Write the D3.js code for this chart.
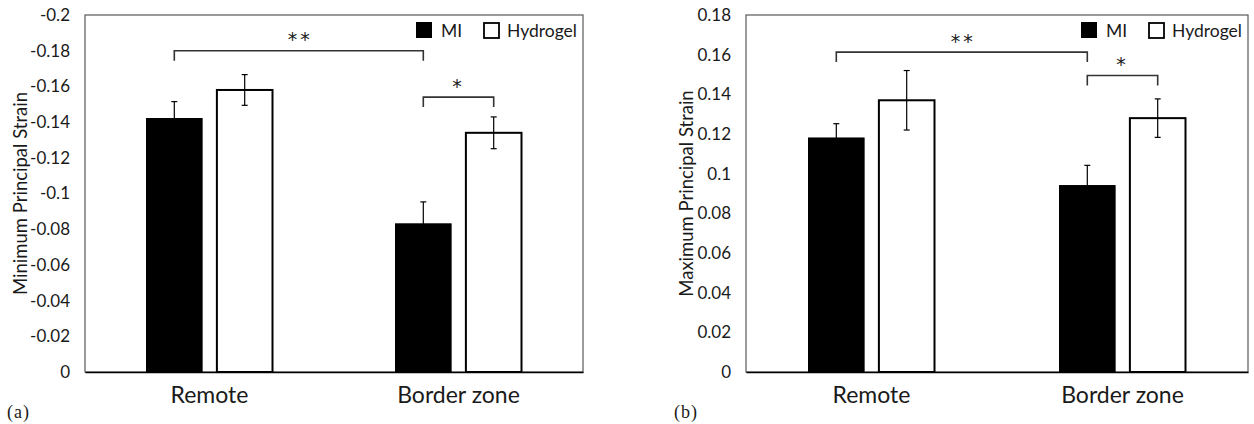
<!DOCTYPE html>
<html><head><meta charset="utf-8">
<script src="https://cdn.jsdelivr.net/npm/d3@7"></script>
<style>
body{margin:0;background:#fff}
svg{display:block}
text{font-family:Lato,"Open Sans",sans-serif;fill:#1a1a1a}
</style>
</head><body>
<svg id="c" width="1254" height="424"></svg>
<script>
// ---------- data ----------
const categories = ["Remote", "Border zone"];
const series = ["MI", "Hydrogel"];

// panel (a): minimum principal strain
const minMI = [-0.142, -0.083];
const minHydrogel = [-0.158, -0.134];
const minErrMI = [0.0095, 0.0123];
const minErrHydrogel = [0.0086, 0.0089];
const minTicks = [0, -0.02, -0.04, -0.06, -0.08, -0.1, -0.12, -0.14, -0.16, -0.18, -0.2];
const minTickLabels = ["0", "-0.02", "-0.04", "-0.06", "-0.08", "-0.1", "-0.12", "-0.14", "-0.16", "-0.18", "-0.2"];
const minSig = [
  {from: ["Remote", "MI"], to: ["Border zone", "MI"], level: -0.18, label: "**"},
  {from: ["Border zone", "MI"], to: ["Border zone", "Hydrogel"], level: -0.154, label: "*"}
];

// panel (b): maximum principal strain
const maxMI = [0.118, 0.094];
const maxHydrogel = [0.137, 0.128];
const maxErrMI = [0.0072, 0.0102];
const maxErrHydrogel = [0.015, 0.0097];
const maxTicks = [0, 0.02, 0.04, 0.06, 0.08, 0.1, 0.12, 0.14, 0.16, 0.18];
const maxTickLabels = ["0", "0.02", "0.04", "0.06", "0.08", "0.1", "0.12", "0.14", "0.16", "0.18"];
const maxSig = [
  {from: ["Remote", "MI"], to: ["Border zone", "MI"], level: 0.1613, label: "**"},
  {from: ["Border zone", "MI"], to: ["Border zone", "Hydrogel"], level: 0.1495, label: "*"}
];

const titles = ["Minimum Principal Strain", "Maximum Principal Strain"];
const panelLabels = ["(a)", "(b)"];

// ---------- layout ----------
const svg = d3.select("#c");
const panels = [
  {left: 85, right: 583, top: 15, bottom: 372, domain: [0, -0.2], mi: minMI, hy: minHydrogel,
   emi: minErrMI, ehy: minErrHydrogel, ticks: minTicks, labels: minTickLabels, sig: minSig,
   title: titles[0], titleX: 27, tag: panelLabels[0], tagX: 7},
  {left: 746, right: 1248, top: 15, bottom: 372, domain: [0, 0.18], mi: maxMI, hy: maxHydrogel,
   emi: maxErrMI, ehy: maxErrHydrogel, ticks: maxTicks, labels: maxTickLabels, sig: maxSig,
   title: titles[1], titleX: 693, tag: panelLabels[1], tagX: 674}
];

panels.forEach(p => {
  const g = svg.append("g");
  const y = d3.scaleLinear().domain(p.domain).range([p.bottom, p.top]);
  const x0 = d3.scaleBand().domain(categories).range([p.left, p.right]).padding(0);
  const groupW = 126;
  const x1 = d3.scaleBand().domain(series).range([0, groupW]).paddingInner(0.21).paddingOuter(0);
  const bx = (cat, s) => x0(cat) + x0.bandwidth() / 2 - groupW / 2 + x1(s);
  const cx = (cat, s) => bx(cat, s) + x1.bandwidth() / 2;

  // plot frame
  g.append("rect").attr("x", p.left).attr("y", p.top)
    .attr("width", p.right - p.left).attr("height", p.bottom - p.top)
    .attr("fill", "none").attr("stroke", "#595959").attr("stroke-width", 1.2);

  // y axis
  const ya = d3.axisLeft(y).tickValues(p.ticks).tickFormat((d, i) => p.labels[i])
    .tickSize(0).tickPadding(15);
  const yg = g.append("g").attr("transform", `translate(${p.left},0)`).call(ya);
  yg.select(".domain").remove();
  yg.selectAll("text").style("font-family", "Lato, sans-serif").style("font-size", "17px").attr("fill", "#1a1a1a");

  // bars
  const rows = [];
  categories.forEach((c, i) => {
    rows.push({cat: c, s: "MI", v: p.mi[i], e: p.emi[i]});
    rows.push({cat: c, s: "Hydrogel", v: p.hy[i], e: p.ehy[i]});
  });
  g.selectAll("rect.bar").data(rows).enter().append("rect").attr("class", "bar")
    .attr("x", d => bx(d.cat, d.s))
    .attr("width", x1.bandwidth())
    .attr("y", d => Math.min(y(d.v), y(0)))
    .attr("height", d => Math.abs(y(0) - y(d.v)))
    .attr("fill", d => d.s === "MI" ? "#000" : "#fff")
    .attr("stroke", "#000")
    .attr("stroke-width", d => d.s === "MI" ? 1 : 2);

  // error bars
  const sign = Math.sign(p.domain[1]);
  rows.forEach(d => {
    const xc = cx(d.cat, d.s);
    const y1 = y(d.v - sign * d.e), y2 = y(d.v + sign * d.e);
    const eg = g.append("g").attr("stroke", "#000").attr("stroke-width", 1.2);
    eg.append("line").attr("x1", xc).attr("x2", xc).attr("y1", y1).attr("y2", y2);
    eg.append("line").attr("x1", xc - 3).attr("x2", xc + 3).attr("y1", y1).attr("y2", y1);
    eg.append("line").attr("x1", xc - 3).attr("x2", xc + 3).attr("y1", y2).attr("y2", y2);
  });

  // x axis
  const xa = d3.axisBottom(x0).tickSize(0).tickPadding(15);
  const xg = g.append("g").attr("transform", `translate(0,${p.bottom})`).call(xa);
  xg.select(".domain").attr("stroke", "#000").attr("stroke-width", 1.6);
  xg.selectAll("text").style("font-family", "Lato, sans-serif").style("font-size", "23px").attr("fill", "#1a1a1a");

  // significance brackets
  p.sig.forEach(s => {
    const xa1 = cx(s.from[0], s.from[1]), xa2 = cx(s.to[0], s.to[1]);
    const yl = y(s.level);
    g.append("path").attr("d", `M${xa1},${yl + 10}V${yl}H${xa2}V${yl + 10}`)
      .attr("fill", "none").attr("stroke", "#333").attr("stroke-width", 1.6);
    g.append("text").attr("x", (xa1 + xa2) / 2).attr("y", yl - 4.5)
      .attr("text-anchor", "middle")
      .style("font-family", "'DejaVu Sans', sans-serif")
      .style("font-size", "19px").style("letter-spacing", "3px")
      .attr("dx", s.label.length > 1 ? 1.5 : 0)
      .text(s.label);
  });

  // legend
  const lx = p.right - 167;
  g.append("rect").attr("x", lx).attr("y", 22).attr("width", 16).attr("height", 16).attr("fill", "#000");
  g.append("text").attr("x", lx + 25).attr("y", 37).style("font-size", "17.5px").text(series[0]);
  g.append("rect").attr("x", lx + 68).attr("y", 23).attr("width", 15).attr("height", 15)
    .attr("fill", "#fff").attr("stroke", "#000").attr("stroke-width", 1.8);
  g.append("text").attr("x", lx + 91).attr("y", 37).style("font-size", "17.5px").text(series[1]);

  // y title
  g.append("text").attr("transform", `translate(${p.titleX},${(p.top + p.bottom) / 2}) rotate(-90)`)
    .attr("text-anchor", "middle").style("font-size", "18.5px").text(p.title);

  // panel tag
  g.append("text").attr("x", p.tagX).attr("y", 418)
    .style("font-family", "'Liberation Serif', 'Times New Roman', serif").style("font-size", "18px")
    .style("letter-spacing", "1px")
    .text(p.tag);
});
</script>
</body></html>
